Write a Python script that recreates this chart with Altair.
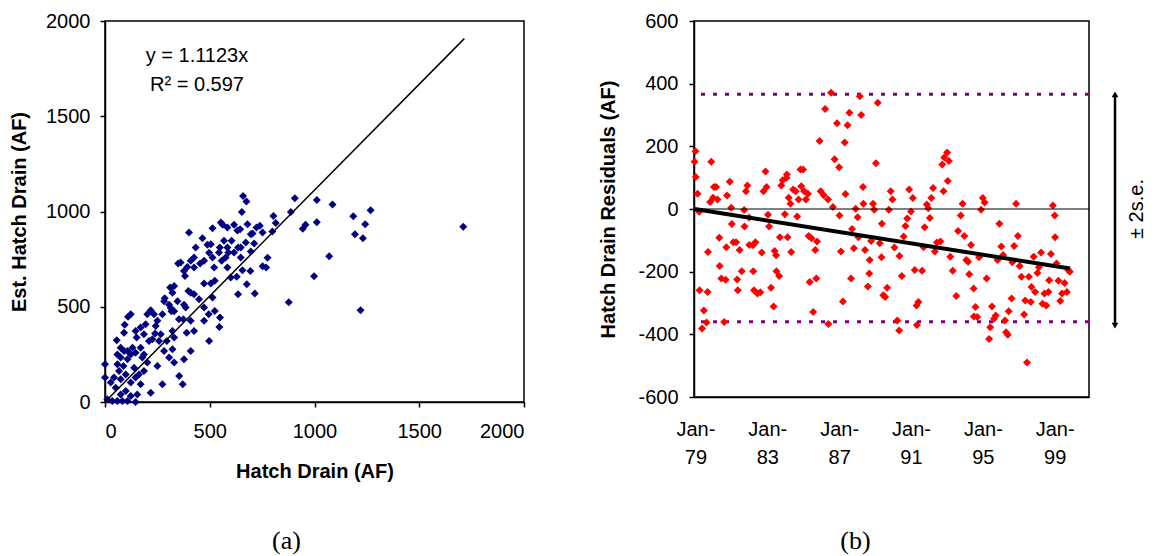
import altair as alt
import pandas as pd

FONT = "Liberation Sans"

# ---------------- Panel (a): observed vs estimated ----------------
obs_af = [
    659, 675, 653, 906, 1011, 1086, 887, 804, 1268, 1185,
    1242, 1193, 1231, 1011, 957, 944, 1070, 998, 877, 1220,
    815, 799, 739, 752, 723, 712, 696, 776, 769, 752,
    715, 635, 677, 629, 656, 694, 672, 616, 635, 648,
    600, 584, 557, 548, 568, 562, 553, 584, 616, 645,
    513, 401, 465, 489, 497, 513, 521, 505, 524, 473,
    433, 425, 409, 393, 361, 349, 377, 425, 454, 382,
    330, 322, 311, 398, 409, 377, 385, 285, 306, 317,
    274, 218, 202, 234, 250, 239, 266, 258, 226, 186,
    146, 123, 110, 94, 91, 56, 151, 131, 107, 75,
    59, 88, 123, 170, 186, 202, 250, 295, 322, 306,
    330, 377, 409, 425, 390, 374, 473, 497, 524, 549,
    546, 495, 473, 409, 354, 371, 274, 218, 0, 0,
    27, 51, 75, 11, 35, 59, 83, 107, 146, 99,
    123, 146, 170, 162, 99, 75, 43, 139, 186, 123,
    154, 67, 91, 107, 210, 282, 346, 330, 353, 449,
    632, 680, 704, 604, 589, 513, 584, 648, 696, 505,
    544, 576, 473, 314, 425, 242, 194, 170, 282, 322,
    330, 146, 178, 75, 59, 1710,
]
est_af = [
    1082, 1053, 998, 1070, 1060, 1037, 998, 977, 1007, 975,
    933, 881, 860, 944, 930, 909, 765, 660, 524, 482,
    940, 895, 925, 890, 916, 832, 790, 757, 706, 713,
    569, 566, 618, 657, 692, 688, 837, 785, 811, 758,
    653, 706, 741, 811, 846, 930, 942, 916, 930, 907,
    912, 890, 860, 825, 783, 758, 706, 622, 636, 622,
    811, 758, 741, 709, 732, 727, 688, 706, 727, 662,
    609, 574, 601, 583, 574, 511, 496, 545, 511, 476,
    461, 482, 461, 461, 426, 359, 356, 320, 329, 356,
    373, 461, 447, 405, 364, 324, 338, 285, 268, 233,
    198, 189, 250, 285, 250, 207, 189, 320, 277, 233,
    207, 224, 268, 373, 364, 434, 426, 320, 478, 443,
    394, 461, 496, 426, 137, 93, 93, 49, 198, 128,
    102, 75, 40, 14, 5, 5, 5, 5, 0, 58,
    102, 128, 93, 145, 145, 119, 128, 180, 163, 32,
    40, 163, 268, 224, 320, 529, 529, 476, 434, 539,
    900, 933, 884, 846, 785, 548, 811, 811, 881, 828,
    785, 758, 741, 494, 566, 399, 408, 391, 268, 373,
    338, 259, 233, 285, 250, 920,
]
fit_slope = 1.1123
fit_x = [0, 1715]
eq_labels = ["y = 1.1123x", "R\u00b2 = 0.597"]
eq_x = [439, 439]
eq_y = [1816, 1664]
axis_a_ticks = [0, 500, 1000, 1500, 2000]

# ---------------- Panel (b): residuals through time ----------------
res_year = [
    1978.95, 1979.00, 1979.02, 1979.12, 1979.21, 1979.23, 1979.37, 1979.47, 1979.62, 1979.68,
    1979.70, 1979.88, 1979.82, 1980.03, 1980.15, 1979.98, 1980.23, 1980.33, 1980.35, 1980.44,
    1980.60, 1980.68, 1980.72, 1980.76, 1980.91, 1980.99, 1981.03, 1981.11, 1981.26, 1981.32,
    1981.36, 1981.46, 1981.58, 1981.71, 1981.73, 1981.81, 1981.89, 1981.99, 1982.00, 1982.20,
    1982.22, 1982.26, 1982.34, 1982.45, 1982.61, 1982.69, 1982.79, 1982.96, 1982.90, 1983.04,
    1983.10, 1983.21, 1983.35, 1983.41, 1983.49, 1983.51, 1983.66, 1983.70, 1983.78, 1983.86,
    1983.98, 1984.07, 1984.09, 1984.13, 1984.19, 1984.29, 1984.33, 1984.44, 1984.58, 1984.66,
    1984.74, 1984.85, 1984.99, 1984.89, 1985.05, 1985.15, 1985.26, 1985.30, 1985.36, 1985.46,
    1985.56, 1985.67, 1985.73, 1985.77, 1985.91, 1985.97, 1986.14, 1986.22, 1986.38, 1986.40,
    1986.55, 1986.65, 1986.75, 1986.88, 1987.00, 1987.02, 1987.10, 1987.21, 1987.31, 1987.35,
    1987.47, 1987.57, 1987.66, 1987.72, 1987.82, 1987.92, 1988.03, 1988.07, 1988.15, 1988.23,
    1988.33, 1988.35, 1988.44, 1988.60, 1988.68, 1988.70, 1988.78, 1988.89, 1988.95, 1989.05,
    1989.15, 1989.26, 1989.38, 1989.36, 1989.46, 1989.56, 1989.67, 1989.77, 1989.87, 1989.97,
    1990.08, 1990.24, 1990.36, 1990.34, 1990.49, 1990.59, 1990.69, 1990.79, 1990.90, 1991.00,
    1991.10, 1991.21, 1991.31, 1991.41, 1991.33, 1991.62, 1991.70, 1991.76, 1991.88, 1991.96,
    1992.05, 1992.13, 1992.23, 1992.33, 1992.44, 1992.64, 1992.74, 1992.81, 1992.85, 1993.01,
    1993.05, 1993.11, 1993.19, 1993.32, 1993.52, 1993.62, 1993.77, 1993.87, 1993.97, 1994.08,
    1994.18, 1994.24, 1994.34, 1994.49, 1994.59, 1994.50, 1994.69, 1994.79, 1994.90, 1995.00,
    1995.10, 1995.21, 1995.35, 1995.41, 1995.51, 1995.62, 1995.72, 1995.82, 1995.92, 1996.03,
    1996.13, 1996.23, 1996.29, 1996.39, 1996.44, 1996.60, 1996.64, 1996.74, 1996.85, 1996.95,
    1997.05, 1997.15, 1997.30, 1997.36, 1997.46, 1997.56, 1997.67, 1997.71, 1997.83, 1997.91,
    1998.04, 1998.12, 1998.24, 1998.32, 1998.43, 1998.53, 1998.65, 1998.69, 1998.79, 1998.90,
    1999.00, 1999.02, 1999.10, 1999.21, 1999.31, 1999.41, 1999.55, 1999.68, 1999.76, 1999.84,
]
res_af = [
    151, 184, 102, 49, -9, -259, -381, -324, -362, -265,
    -137, 151, 22, 70, 70, 36, 30, -92, -182, -222,
    -361, -226, -122, 43, 87, 4, -48, -106, -106, -225,
    -259, -131, -199, -3, -56, 57, 75, -27, -115, -116,
    -199, -259, -106, -270, -266, -139, 57, 70, 120, -18,
    -56, -251, -311, -134, -148, -199, -214, -90, 75, 92,
    -17, 100, 110, -90, 36, 17, -137, 62, 57, -24,
    30, 126, 126, 73, 57, 30, 49, -86, -233, -93,
    -329, -131, -222, -104, 217, 57, 44, 319, 30, -367,
    371, 6, 159, 274, 133, -21, -136, -295, 212, 48,
    267, 307, -222, -64, -125, 1, -26, -90, 360, 300,
    70, 17, -131, -247, -206, -163, -102, 17, -2, 146,
    339, -109, -47, -154, -275, -281, -251, -2, 57, 30,
    -123, -356, -150, -388, -214, -88, -54, -30, 62, -8,
    35, -195, -308, -297, -370, -197, -122, -58, 14, 2,
    -29, 35, 67, -136, -107, -104, 142, 57, 164, 180,
    89, 153, -152, -197, -278, -70, -21, 17, -86, -163,
    -168, -208, -115, -254, -313, -343, -345, -154, -2, 35,
    21, -222, -415, -377, -311, -350, -340, -163, -47, -120,
    -147, -356, -393, -401, -326, -286, -170, -118, 17, -86,
    -182, -216, -337, -292, -490, -216, -297, -249, -152, -265,
    -204, -186, -139, -302, -270, -308, -265, -227, -144, 11,
    -21, -90, -174, -229, -294, -270, -236, -265, -195, -200,
]
trend_year = [1978.95, 1999.85]
trend_af = [0, -190]
se2_bounds = [366, -360]
arrow_ends = [366, -372]
year_ticks = [1979, 1983, 1987, 1991, 1995, 1999]
year_domain = [1978.92, 2000.91]
axis_b_ticks = [-600, -400, -200, 0, 200, 400, 600]

# ---------------- sizes ----------------
W_A, H_A = 419, 381
W_B, H_B = 395, 376

# ---------------- Panel (a) chart ----------------
df_a = pd.DataFrame({"obs": obs_af, "est": est_af})
df_fit = pd.DataFrame({"obs": fit_x, "est": [fit_slope * v for v in fit_x]})
df_eq = pd.DataFrame({"obs": eq_x, "est": eq_y, "label": eq_labels})

x_a = alt.X(
    "obs:Q",
    scale=alt.Scale(domain=[0, 2000], nice=False),
    axis=alt.Axis(values=axis_a_ticks, format="d", title="Hatch Drain (AF)",
                  grid=False, tickSize=5, labelPadding=14, titlePadding=20),
)
y_a = alt.Y(
    "est:Q",
    scale=alt.Scale(domain=[0, 2000], nice=False),
    axis=alt.Axis(values=axis_a_ticks, format="d", title="Est. Hatch Drain (AF)",
                  grid=False, tickSize=5, labelPadding=10, titlePadding=16),
)

pts_a = alt.Chart(df_a).mark_point(
    shape="diamond", filled=True, size=64, color="#000080", opacity=1
).encode(x=x_a, y=y_a)
line_a = alt.Chart(df_fit).mark_line(color="black", strokeWidth=1.5).encode(
    x="obs:Q", y="est:Q"
)
txt_a = alt.Chart(df_eq).mark_text(
    font=FONT, fontSize=20, color="black", align="center", baseline="middle"
).encode(x="obs:Q", y="est:Q", text="label:N")

chart_a = alt.layer(pts_a, line_a, txt_a).properties(
    width=W_A, height=H_A,
    title=alt.TitleParams(text="(a)", orient="bottom", anchor="middle", frame="group",
                          font="Liberation Serif", fontSize=26, fontWeight="normal",
                          color="black", offset=47, dx=-28),
)

# ---------------- Panel (b) chart ----------------
df_b = pd.DataFrame({"year": res_year, "res": res_af})
df_trend = pd.DataFrame({"year": trend_year, "res": trend_af})
df_se = pd.DataFrame({"res": se2_bounds})
df_zero = pd.DataFrame({"res": [0]})
df_arrow = pd.DataFrame({"hi": [arrow_ends[0]], "lo": [arrow_ends[1]]})
df_up = pd.DataFrame({"res": [arrow_ends[0]]})
df_dn = pd.DataFrame({"res": [arrow_ends[1]]})
df_lbl = pd.DataFrame({"res": [0], "label": ["\u00b1 2s.e."]})

x_b = alt.X(
    "year:Q",
    scale=alt.Scale(domain=year_domain, nice=False, zero=False),
    axis=alt.Axis(values=year_ticks, title=None, grid=False, ticks=False,
                  labelExpr="['Jan-', slice(toString(datum.value), 2)]",
                  labelLineHeight=28, labelPadding=22),
)
y_b = alt.Y(
    "res:Q",
    scale=alt.Scale(domain=[-600, 600], nice=False),
    axis=alt.Axis(values=axis_b_ticks, title="Hatch Drain Residuals (AF)",
                  labelExpr="toString(datum.value)",
                  grid=False, tickSize=5, labelPadding=11, titlePadding=19),
)

zero_b = alt.Chart(df_zero).mark_rule(color="black", strokeWidth=1).encode(y="res:Q")
se_b = alt.Chart(df_se).mark_rule(
    color="#800080", strokeWidth=3, strokeDash=[4, 8]
).encode(y="res:Q")
pts_b = alt.Chart(df_b).mark_point(
    shape="diamond", filled=True, size=64, color="#FF0000", opacity=1
).encode(x=x_b, y=y_b)
trend_b = alt.Chart(df_trend).mark_line(color="black", strokeWidth=4).encode(
    x="year:Q", y="res:Q"
)
arrow_b = alt.Chart(df_arrow).mark_rule(color="black", strokeWidth=2.5).encode(
    x=alt.value(W_B + 26), y="hi:Q", y2="lo:Q"
)
head_up = alt.Chart(df_up).mark_point(
    shape="triangle-up", filled=True, size=45, color="black", opacity=1
).encode(x=alt.value(W_B + 26), y="res:Q")
head_dn = alt.Chart(df_dn).mark_point(
    shape="triangle-down", filled=True, size=45, color="black", opacity=1
).encode(x=alt.value(W_B + 26), y="res:Q")
lbl_b = alt.Chart(df_lbl).mark_text(
    font=FONT, fontSize=20, color="black", angle=270, align="center", baseline="middle"
).encode(x=alt.value(W_B + 48), y="res:Q", text="label:N")

chart_b = alt.layer(
    se_b, pts_b, zero_b, trend_b, arrow_b, head_up, head_dn, lbl_b
).properties(
    width=W_B, height=H_B,
    title=alt.TitleParams(text="(b)", orient="bottom", anchor="middle", frame="group",
                          font="Liberation Serif", fontSize=26, fontWeight="normal",
                          color="black", offset=61, dx=-36),
)

chart = alt.hconcat(chart_a, chart_b, spacing=72).properties(
    padding={"left": 0, "top": 2, "right": 0, "bottom": 0}
).configure_axis(
    labelFont=FONT, titleFont=FONT, labelFontSize=20, titleFontSize=20,
    titleFontWeight="bold", labelColor="black", titleColor="black",
    domainColor="black", tickColor="black", domainWidth=1.5, tickWidth=1.5,
).configure_view(stroke="black", strokeWidth=1.5)

chart.save("out.html", embed_options={"renderer": "svg", "actions": False})
